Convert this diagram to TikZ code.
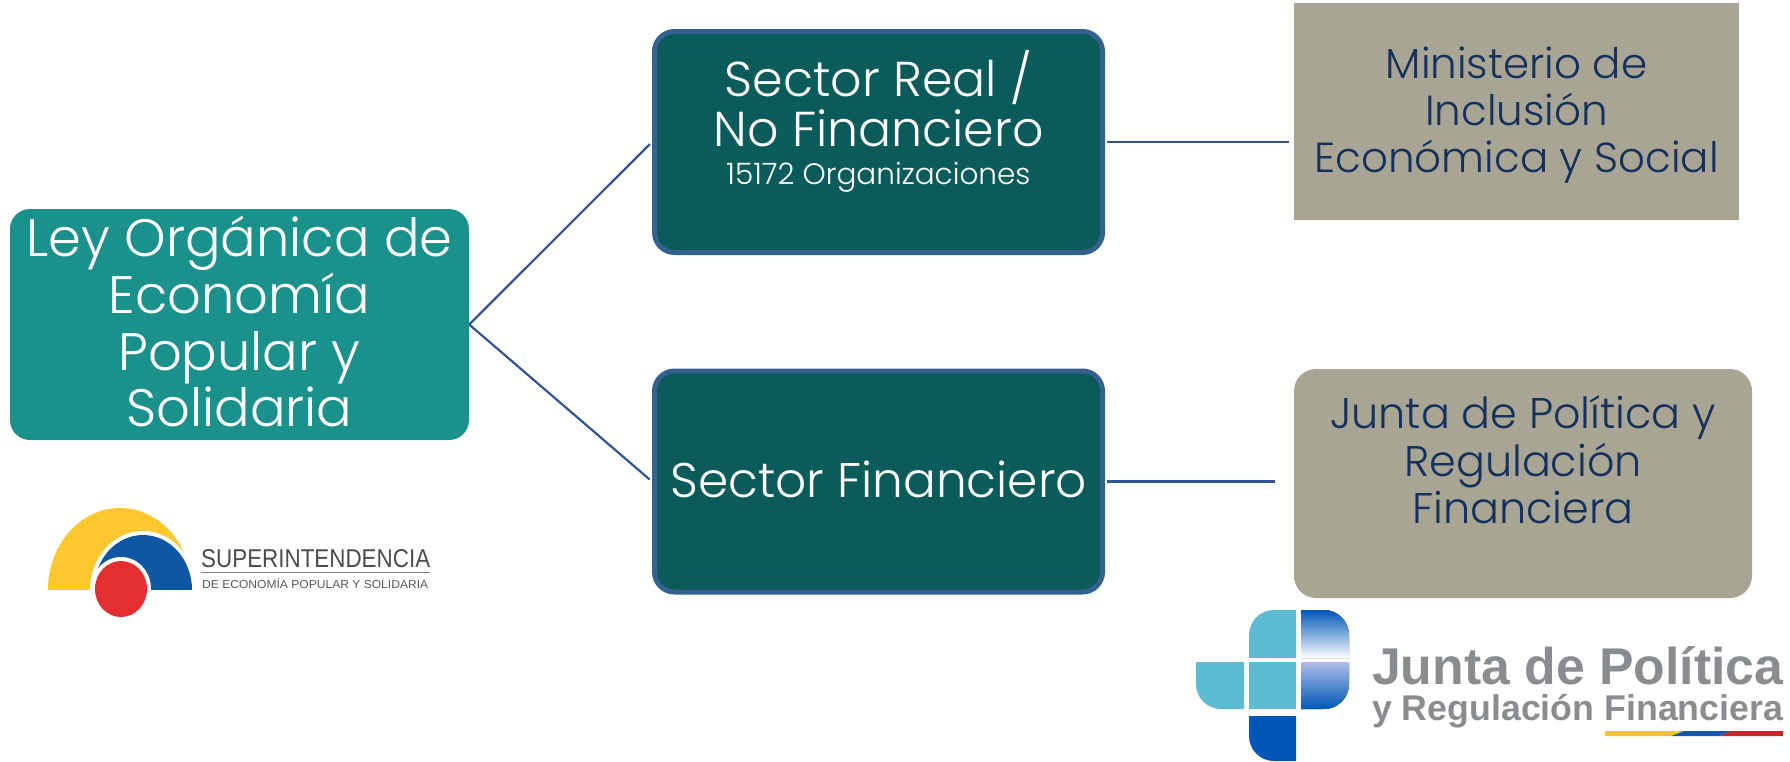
\documentclass[tikz,border=0pt]{standalone}
\usepackage{fontspec}
\usepackage{graphicx}
\setmainfont{Poppins}[UprightFont=* Light,BoldFont=* Light]
\newfontfamily\logofont{Liberation Sans}
\newfontfamily\juntafont{Liberation Sans}[UprightFont=* Bold]
\usetikzlibrary{shapes.geometric}
\definecolor{teal1}{HTML}{1B918C}
\definecolor{teal2}{HTML}{0B5B5A}
\definecolor{edge2}{HTML}{336190}
\definecolor{sand}{HTML}{A9A594}
\definecolor{navy}{HTML}{14305C}
\definecolor{wire}{HTML}{2F5597}
\definecolor{lightblue}{HTML}{5DBCD2}
\definecolor{deepblue}{HTML}{0057B8}
\definecolor{paleblue}{HTML}{AEBDE6}
\definecolor{logogray}{HTML}{8A8D8F}
\definecolor{sepsyellow}{HTML}{FDC82F}
\definecolor{sepsblue}{HTML}{0F56A4}
\definecolor{sepsred}{HTML}{E52E32}
\definecolor{stripey}{HTML}{F4C81E}
\definecolor{stripeb}{HTML}{1657B0}
\definecolor{striper}{HTML}{C4282A}
\tikzset{
  mainbox/.style={fill=teal1,text=white,rounded corners=20pt,minimum width=459pt,minimum height=231pt,align=center,inner sep=0pt},
  sectorbox/.style={fill=teal2,draw=edge2,line width=5pt,text=white,rounded corners=20pt,minimum width=448pt,minimum height=221pt,align=center,inner sep=0pt},
  regbox/.style={fill=sand,text=navy,align=center,inner sep=0pt},
  wireline/.style={draw=wire,line width=2.2pt},
  big/.style={font=\fontsize{52.7}{56.7}\selectfont},
  mid/.style={font=\fontsize{42}{47}\selectfont},
}
\begin{document}
\begin{tikzpicture}[x=1pt,y=-1pt]
\useasboundingbox (0,0) rectangle (1790,761);
% main nodes
\node[mainbox,big] (ley) at (239.5,324.5) {Ley Orgánica de\\Economía\\Popular y\\Solidaria\rule[-6pt]{0pt}{0pt}};
\node[sectorbox,font=\fontsize{49}{50}\selectfont] (real) at (878.5,142) {Sector Real /\\No Financiero\\[-12pt]{\fontsize{29.5}{32}\selectfont 15172 Organizaciones}\\[-1pt]\mbox{}};
\node[sectorbox,font=\fontsize{48.6}{50}\selectfont] (fin) at (878.5,481.5) {Sector Financiero\rule[-5pt]{0pt}{0pt}};
\node[regbox,mid,minimum width=445pt,minimum height=217pt] (mies) at (1516.5,111.5) {\rule{0pt}{38pt}Ministerio de\\Inclusión\\Económica y Social};
\node[regbox,font=\fontsize{42.9}{47.5}\selectfont,rounded corners=22pt,minimum width=458pt,minimum height=229pt] (junta) at (1523,483.5) {Junta de Política y\\Regulación\\Financiera\\[0pt]\mbox{}};
% connectors
\draw[wireline,shorten >=3pt] (ley.east) -- (real.west);
\draw[wireline,shorten >=3pt] (ley.east) -- (fin.west);
\draw[wireline,shorten <=2pt,shorten >=5pt] (real.east) -- (real.east -| mies.west);
\draw[wireline,shorten <=2pt,shorten >=19pt] (fin.east) -- (fin.east -| junta.west);
% Superintendencia logo
\begin{scope}
  \clip (40,500) rectangle (200,589.5);
  \fill[sepsyellow] (120,590) ellipse [x radius=72,y radius=82];
  \fill[white] (143,590) ellipse [x radius=53,y radius=59];
  \fill[sepsblue] (143,590) ellipse [x radius=49,y radius=55];
\end{scope}
\fill[white] (121,589) ellipse [x radius=30,y radius=32];
\fill[sepsred] (121,589) ellipse [x radius=26,y radius=28];
\node[inner sep=0pt,anchor=south west,text=black!70] (sepsa) at (201,568) {\logofont\resizebox{229pt}{18pt}{SUPERINTENDENCIA}};
\draw[black!50,line width=1.5pt] (201,572.5) -- (430,572.5);
\node[inner sep=0pt,anchor=south west,text=black!65] (sepsb) at (202,588.5) {\logofont\resizebox{226pt}{10pt}{DE ECONOMÍA POPULAR Y SOLIDARIA}};
% Junta logo
\fill[lightblue] (1249,658) -- (1249,635) arc[start angle=180,end angle=270,radius=25] -- (1296,610) -- (1296,658) -- cycle;
\fill[top color=deepblue,bottom color=white] (1301,658) -- (1301,610) -- (1324,610) arc[start angle=270,end angle=360,radius=25] -- (1349,658) -- cycle;
\fill[lightblue] (1196,662) -- (1244,662) -- (1244,709) -- (1221,709) arc[start angle=90,end angle=180,radius=25] -- cycle;
\fill[lightblue] (1249,662) rectangle (1296,709);
\fill[top color=paleblue,bottom color=deepblue] (1301,662) -- (1349,662) -- (1349,684) arc[start angle=0,end angle=90,radius=25] -- (1301,709) -- cycle;
\fill[deepblue] (1249,716) -- (1296,716) -- (1296,761) -- (1274,761) arc[start angle=90,end angle=180,radius=25] -- cycle;
\node[inner sep=0pt,anchor=base west,text=logogray] (jpa) at (1372,684) {\juntafont\resizebox{411pt}{!}{Junta de Política}};
\node[inner sep=0pt,anchor=base west,text=logogray] (jpb) at (1372,720) {\juntafont\resizebox{411pt}{!}{y Regulación Financiera}};
\fill[stripey] (1605,731) -- (1684,731) -- (1671,736) -- (1605,736) -- cycle;
\fill[stripeb] (1684,731) -- (1732,731) -- (1719,736) -- (1671,736) -- cycle;
\fill[striper] (1732,731) -- (1783,731) -- (1783,736) -- (1719,736) -- cycle;
\end{tikzpicture}
\end{document}
